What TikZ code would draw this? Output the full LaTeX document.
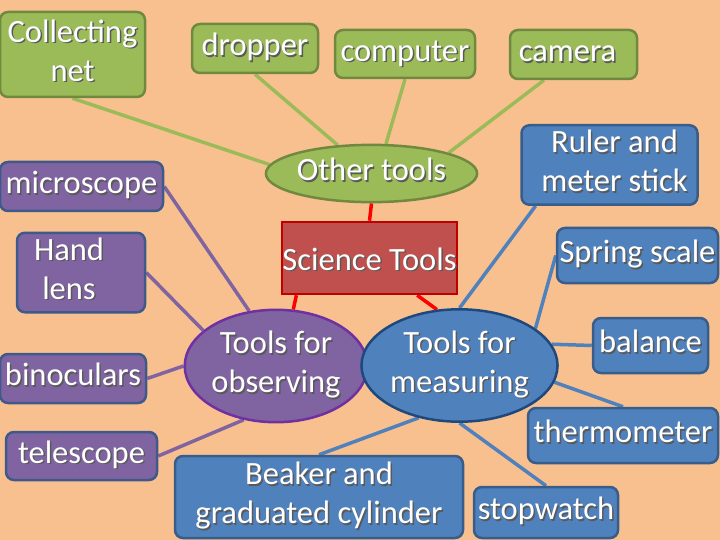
\documentclass[tikz,border=0pt]{standalone}
\usepackage{fontspec}
\setmainfont{Carlito}
\usetikzlibrary{shapes.geometric,backgrounds}
\definecolor{bg}{HTML}{F9C08F}
\definecolor{gfill}{HTML}{9BBB59}
\definecolor{gdraw}{HTML}{71893F}
\definecolor{gline}{HTML}{9BBB59}
\definecolor{pfill}{HTML}{8064A2}
\definecolor{pdraw}{HTML}{3F5A8A}
\definecolor{pline}{HTML}{8064A2}
\definecolor{podraw}{HTML}{7030A0}
\definecolor{bfill}{HTML}{4F81BD}
\definecolor{bdraw}{HTML}{385D8A}
\definecolor{bline}{HTML}{4F81BD}
\definecolor{bodraw}{HTML}{1F497D}
\definecolor{rfill}{HTML}{C0504D}
\definecolor{rdraw}{HTML}{C00000}
\definecolor{rline}{HTML}{FF0000}
\newcommand\shd[1]{\begin{tabular}{@{}c@{}}#1\end{tabular}}
\newcommand\sh[1]{\rlap{\kern1.5pt\raisebox{-1.5pt}{\color{black!65}\shd{#1}}}\shd{#1}}
\tikzset{
  base/.style={inner sep=0pt, text=white, font=\fontsize{32.5}{39}\selectfont, line width=2.5pt},
  gbox/.style={base, rectangle, rounded corners=8pt, fill=gfill, draw=gdraw},
  pbox/.style={base, rectangle, rounded corners=8pt, fill=pfill, draw=pdraw},
  bbox/.style={base, rectangle, rounded corners=8pt, fill=bfill, draw=bdraw},
  gell/.style={base, ellipse, fill=gfill, draw=gdraw},
  pell/.style={base, ellipse, fill=pfill, draw=podraw},
  bell/.style={base, ellipse, fill=bfill, draw=bodraw},
  rbox/.style={base, rectangle, fill=rfill, draw=rdraw},
  gcon/.style={draw=gline, line width=3.5pt},
  pcon/.style={draw=pline, line width=3.5pt},
  bcon/.style={draw=bline, line width=3.5pt},
  rcon/.style={draw=rline, line width=3.5pt},
}
\begin{document}
\begin{tikzpicture}[x=1pt,y=-1pt]
\useasboundingbox (0,0) rectangle (720,540);
% nodes
\node[gbox, minimum width=145pt, minimum height=85pt] (coll) at (72.5,54.5) {\sh{Collecting\\net}};
\node[gbox, minimum width=126pt, minimum height=49pt] (dropper) at (255,48.5) {\sh{dropper}};
\node[gbox, minimum width=140pt, minimum height=48pt] (computer) at (405,54) {\sh{computer}};
\node[gbox, minimum width=127pt, minimum height=49pt] (camera) at (573.5,54.5) {\sh{camera}\hspace*{12pt}};
\node[pbox, minimum width=163pt, minimum height=49pt] (micro) at (81.5,186.5) {\sh{microscope}};
\node[gell, minimum width=169pt, minimum height=47pt] (other) at (371.5,173.5) {\sh{Other tools}};
\node[bbox, minimum width=176pt, minimum height=78pt] (ruler) at (609.5,165) {\hspace*{10pt}\sh{Ruler and\\meter stick}};
\node[rbox, minimum width=175pt, minimum height=72pt] (sci) at (369.5,258) {\raisebox{-5pt}[\height][\depth]{\sh{Science Tools}}};
\node[pbox, minimum width=128pt, minimum height=79pt] (hand) at (81,272.5) {\sh{Hand\\lens}\hspace*{24pt}};
\node[pbox, minimum width=146pt, minimum height=49pt] (binoc) at (73,378.5) {\sh{binoculars}};
\node[pbox, minimum width=151pt, minimum height=48pt] (tele) at (81.5,456) {\sh{telescope}};
\node[pell, minimum width=156pt, minimum height=95pt] (obs) at (276,366) {\sh{Tools for\\observing}};
\node[bell, minimum width=175pt, minimum height=95pt] (meas) at (459.5,365.5) {\sh{Tools for\\measuring}};
\node[bbox, minimum width=288pt, minimum height=82pt] (beaker) at (319,497) {\sh{Beaker and\\graduated cylinder}};
\node[bbox, minimum width=161pt, minimum height=55pt] (spring) at (637.5,255.5) {\sh{Spring scale}};
\node[bbox, minimum width=115pt, minimum height=55pt] (balance) at (650.5,345.5) {\sh{balance}};
\node[bbox, minimum width=190pt, minimum height=55pt] (thermo) at (623,435.5) {\sh{thermometer}};
\node[bbox, minimum width=144pt, minimum height=51pt] (stop) at (546,512.5) {\sh{stopwatch}};
% connectors
\begin{scope}[on background layer]
\fill[bg] (0,0) rectangle (720,540);
\draw[gcon] (coll.south) -- (other.175);
\draw[gcon] (dropper.south) -- (other.140);
\draw[gcon] (computer.south) -- (other.64);
\draw[gcon] (camera.221) -- (other.15);
\draw[rcon] (other.south) -- (sci.north);
\draw[rcon] (sci.207) -- (obs.73);
\draw[rcon] (sci.-38) -- (meas.112);
\draw[pcon] (micro.east) -- (obs.116);
\draw[pcon] (hand.east) -- (obs.154);
\draw[pcon] (binoc.east) -- (obs.west);
\draw[pcon] (tele.east) -- (obs.239);
\draw[bcon] (meas.north) -- (ruler.209);
\draw[bcon] (meas.26) -- (spring.west);
\draw[bcon] (meas.13) -- (balance.west);
\draw[bcon] (meas.-10) -- (thermo.north);
\draw[bcon] (meas.south) -- (stop.north);
\draw[bcon] (meas.232) -- (beaker.north);
\end{scope}
\end{tikzpicture}
\end{document}
